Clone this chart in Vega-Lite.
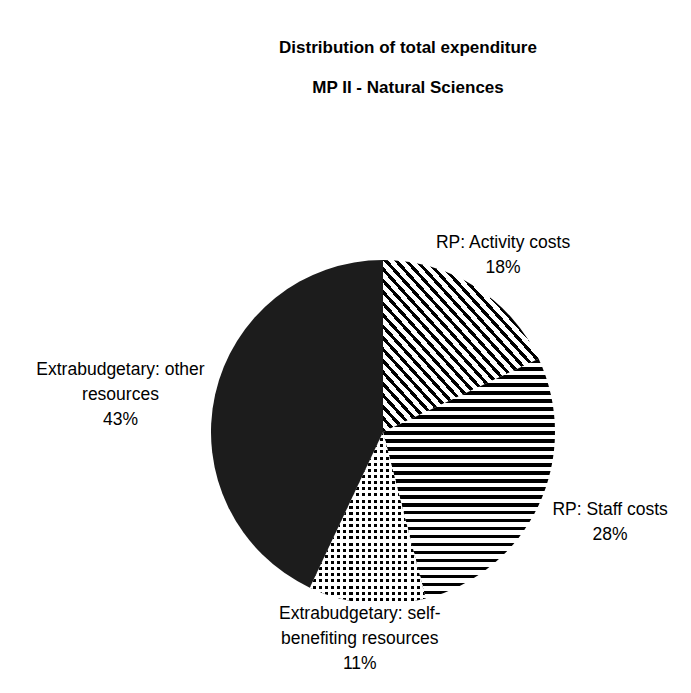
{
  "$schema": "https://vega.github.io/schema/vega-lite/v6.json",
  "width": 616,
  "height": 522,
  "autosize": {"type": "none"},
  "padding": {"left": 75, "top": 171, "right": 0, "bottom": 0},
  "background": "white",
  "config": {"view": {"stroke": null}},
  "title": {
    "text": "Distribution of total expenditure",
    "subtitle": "MP II - Natural Sciences",
    "font": "Liberation Sans",
    "fontSize": 17,
    "fontWeight": "bold",
    "color": "#000",
    "subtitleFont": "Liberation Sans",
    "subtitleFontSize": 17,
    "subtitleFontWeight": "bold",
    "subtitleColor": "#000",
    "subtitlePadding": 23,
    "anchor": "middle",
    "offset": 74,
    "dx": 25
  },
  "data": {
    "values": [
      {"category": "RP: Activity costs", "value": 18, "order": 1, "label": "RP: Activity costs\n18%"},
      {"category": "RP: Staff costs", "value": 28, "order": 2, "label": "RP: Staff costs\n28%"},
      {"category": "Extrabudgetary: self-benefiting resources", "value": 11, "order": 3, "label": "Extrabudgetary: self-\nbenefiting resources\n11%"},
      {"category": "Extrabudgetary: other resources", "value": 43, "order": 4, "label": "Extrabudgetary: other\nresources\n43%"}
    ]
  },
  "transform": [
    {"stack": "value", "groupby": [], "sort": [{"field": "order", "order": "ascending"}], "as": ["v0", "v1"]}
  ],
  "layer": [
    {
      "transform": [{"filter": "datum.order == 1"}],
      "mark": {
        "type": "arc", "radius": 172, "stroke": null,
        "fill": {"gradient": "linear", "x1": 0, "y1": 1, "x2": 1, "y2": 0, "stops": [
          {"offset": 0, "color": "#000"}, {"offset": 0.014, "color": "#000"}, {"offset": 0.014, "color": "#fff"}, {"offset": 0.0333, "color": "#fff"},
          {"offset": 0.0333, "color": "#000"}, {"offset": 0.0473, "color": "#000"}, {"offset": 0.0473, "color": "#fff"}, {"offset": 0.0667, "color": "#fff"},
          {"offset": 0.0667, "color": "#000"}, {"offset": 0.0807, "color": "#000"}, {"offset": 0.0807, "color": "#fff"}, {"offset": 0.1, "color": "#fff"},
          {"offset": 0.1, "color": "#000"}, {"offset": 0.114, "color": "#000"}, {"offset": 0.114, "color": "#fff"}, {"offset": 0.1333, "color": "#fff"},
          {"offset": 0.1333, "color": "#000"}, {"offset": 0.1473, "color": "#000"}, {"offset": 0.1473, "color": "#fff"}, {"offset": 0.1667, "color": "#fff"},
          {"offset": 0.1667, "color": "#000"}, {"offset": 0.1807, "color": "#000"}, {"offset": 0.1807, "color": "#fff"}, {"offset": 0.2, "color": "#fff"},
          {"offset": 0.2, "color": "#000"}, {"offset": 0.214, "color": "#000"}, {"offset": 0.214, "color": "#fff"}, {"offset": 0.2333, "color": "#fff"},
          {"offset": 0.2333, "color": "#000"}, {"offset": 0.2473, "color": "#000"}, {"offset": 0.2473, "color": "#fff"}, {"offset": 0.2667, "color": "#fff"},
          {"offset": 0.2667, "color": "#000"}, {"offset": 0.2807, "color": "#000"}, {"offset": 0.2807, "color": "#fff"}, {"offset": 0.3, "color": "#fff"},
          {"offset": 0.3, "color": "#000"}, {"offset": 0.314, "color": "#000"}, {"offset": 0.314, "color": "#fff"}, {"offset": 0.3333, "color": "#fff"},
          {"offset": 0.3333, "color": "#000"}, {"offset": 0.3473, "color": "#000"}, {"offset": 0.3473, "color": "#fff"}, {"offset": 0.3667, "color": "#fff"},
          {"offset": 0.3667, "color": "#000"}, {"offset": 0.3807, "color": "#000"}, {"offset": 0.3807, "color": "#fff"}, {"offset": 0.4, "color": "#fff"},
          {"offset": 0.4, "color": "#000"}, {"offset": 0.414, "color": "#000"}, {"offset": 0.414, "color": "#fff"}, {"offset": 0.4333, "color": "#fff"},
          {"offset": 0.4333, "color": "#000"}, {"offset": 0.4473, "color": "#000"}, {"offset": 0.4473, "color": "#fff"}, {"offset": 0.4667, "color": "#fff"},
          {"offset": 0.4667, "color": "#000"}, {"offset": 0.4807, "color": "#000"}, {"offset": 0.4807, "color": "#fff"}, {"offset": 0.5, "color": "#fff"},
          {"offset": 0.5, "color": "#000"}, {"offset": 0.514, "color": "#000"}, {"offset": 0.514, "color": "#fff"}, {"offset": 0.5333, "color": "#fff"},
          {"offset": 0.5333, "color": "#000"}, {"offset": 0.5473, "color": "#000"}, {"offset": 0.5473, "color": "#fff"}, {"offset": 0.5667, "color": "#fff"},
          {"offset": 0.5667, "color": "#000"}, {"offset": 0.5807, "color": "#000"}, {"offset": 0.5807, "color": "#fff"}, {"offset": 0.6, "color": "#fff"},
          {"offset": 0.6, "color": "#000"}, {"offset": 0.614, "color": "#000"}, {"offset": 0.614, "color": "#fff"}, {"offset": 0.6333, "color": "#fff"},
          {"offset": 0.6333, "color": "#000"}, {"offset": 0.6473, "color": "#000"}, {"offset": 0.6473, "color": "#fff"}, {"offset": 0.6667, "color": "#fff"},
          {"offset": 0.6667, "color": "#000"}, {"offset": 0.6807, "color": "#000"}, {"offset": 0.6807, "color": "#fff"}, {"offset": 0.7, "color": "#fff"},
          {"offset": 0.7, "color": "#000"}, {"offset": 0.714, "color": "#000"}, {"offset": 0.714, "color": "#fff"}, {"offset": 0.7333, "color": "#fff"},
          {"offset": 0.7333, "color": "#000"}, {"offset": 0.7473, "color": "#000"}, {"offset": 0.7473, "color": "#fff"}, {"offset": 0.7667, "color": "#fff"},
          {"offset": 0.7667, "color": "#000"}, {"offset": 0.7807, "color": "#000"}, {"offset": 0.7807, "color": "#fff"}, {"offset": 0.8, "color": "#fff"},
          {"offset": 0.8, "color": "#000"}, {"offset": 0.814, "color": "#000"}, {"offset": 0.814, "color": "#fff"}, {"offset": 0.8333, "color": "#fff"},
          {"offset": 0.8333, "color": "#000"}, {"offset": 0.8473, "color": "#000"}, {"offset": 0.8473, "color": "#fff"}, {"offset": 0.8667, "color": "#fff"},
          {"offset": 0.8667, "color": "#000"}, {"offset": 0.8807, "color": "#000"}, {"offset": 0.8807, "color": "#fff"}, {"offset": 0.9, "color": "#fff"},
          {"offset": 0.9, "color": "#000"}, {"offset": 0.914, "color": "#000"}, {"offset": 0.914, "color": "#fff"}, {"offset": 0.9333, "color": "#fff"},
          {"offset": 0.9333, "color": "#000"}, {"offset": 0.9473, "color": "#000"}, {"offset": 0.9473, "color": "#fff"}, {"offset": 0.9667, "color": "#fff"},
          {"offset": 0.9667, "color": "#000"}, {"offset": 0.9807, "color": "#000"}, {"offset": 0.9807, "color": "#fff"}, {"offset": 1, "color": "#fff"}
        ]}
      },
      "encoding": {
        "theta": {"field": "v0", "type": "quantitative", "scale": {"domain": [0, 100]}},
        "theta2": {"field": "v1"}
      }
    },
    {
      "transform": [{"filter": "datum.order == 2"}],
      "mark": {
        "type": "arc", "radius": 172, "stroke": null,
        "fill": {"gradient": "linear", "x1": 0, "y1": 0, "x2": 0, "y2": 1, "stops": [
          {"offset": 0, "color": "#000"}, {"offset": 0.016, "color": "#000"}, {"offset": 0.016, "color": "#fff"}, {"offset": 0.0333, "color": "#fff"},
          {"offset": 0.0333, "color": "#000"}, {"offset": 0.0493, "color": "#000"}, {"offset": 0.0493, "color": "#fff"}, {"offset": 0.0667, "color": "#fff"},
          {"offset": 0.0667, "color": "#000"}, {"offset": 0.0827, "color": "#000"}, {"offset": 0.0827, "color": "#fff"}, {"offset": 0.1, "color": "#fff"},
          {"offset": 0.1, "color": "#000"}, {"offset": 0.116, "color": "#000"}, {"offset": 0.116, "color": "#fff"}, {"offset": 0.1333, "color": "#fff"},
          {"offset": 0.1333, "color": "#000"}, {"offset": 0.1493, "color": "#000"}, {"offset": 0.1493, "color": "#fff"}, {"offset": 0.1667, "color": "#fff"},
          {"offset": 0.1667, "color": "#000"}, {"offset": 0.1827, "color": "#000"}, {"offset": 0.1827, "color": "#fff"}, {"offset": 0.2, "color": "#fff"},
          {"offset": 0.2, "color": "#000"}, {"offset": 0.216, "color": "#000"}, {"offset": 0.216, "color": "#fff"}, {"offset": 0.2333, "color": "#fff"},
          {"offset": 0.2333, "color": "#000"}, {"offset": 0.2493, "color": "#000"}, {"offset": 0.2493, "color": "#fff"}, {"offset": 0.2667, "color": "#fff"},
          {"offset": 0.2667, "color": "#000"}, {"offset": 0.2827, "color": "#000"}, {"offset": 0.2827, "color": "#fff"}, {"offset": 0.3, "color": "#fff"},
          {"offset": 0.3, "color": "#000"}, {"offset": 0.316, "color": "#000"}, {"offset": 0.316, "color": "#fff"}, {"offset": 0.3333, "color": "#fff"},
          {"offset": 0.3333, "color": "#000"}, {"offset": 0.3493, "color": "#000"}, {"offset": 0.3493, "color": "#fff"}, {"offset": 0.3667, "color": "#fff"},
          {"offset": 0.3667, "color": "#000"}, {"offset": 0.3827, "color": "#000"}, {"offset": 0.3827, "color": "#fff"}, {"offset": 0.4, "color": "#fff"},
          {"offset": 0.4, "color": "#000"}, {"offset": 0.416, "color": "#000"}, {"offset": 0.416, "color": "#fff"}, {"offset": 0.4333, "color": "#fff"},
          {"offset": 0.4333, "color": "#000"}, {"offset": 0.4493, "color": "#000"}, {"offset": 0.4493, "color": "#fff"}, {"offset": 0.4667, "color": "#fff"},
          {"offset": 0.4667, "color": "#000"}, {"offset": 0.4827, "color": "#000"}, {"offset": 0.4827, "color": "#fff"}, {"offset": 0.5, "color": "#fff"},
          {"offset": 0.5, "color": "#000"}, {"offset": 0.516, "color": "#000"}, {"offset": 0.516, "color": "#fff"}, {"offset": 0.5333, "color": "#fff"},
          {"offset": 0.5333, "color": "#000"}, {"offset": 0.5493, "color": "#000"}, {"offset": 0.5493, "color": "#fff"}, {"offset": 0.5667, "color": "#fff"},
          {"offset": 0.5667, "color": "#000"}, {"offset": 0.5827, "color": "#000"}, {"offset": 0.5827, "color": "#fff"}, {"offset": 0.6, "color": "#fff"},
          {"offset": 0.6, "color": "#000"}, {"offset": 0.616, "color": "#000"}, {"offset": 0.616, "color": "#fff"}, {"offset": 0.6333, "color": "#fff"},
          {"offset": 0.6333, "color": "#000"}, {"offset": 0.6493, "color": "#000"}, {"offset": 0.6493, "color": "#fff"}, {"offset": 0.6667, "color": "#fff"},
          {"offset": 0.6667, "color": "#000"}, {"offset": 0.6827, "color": "#000"}, {"offset": 0.6827, "color": "#fff"}, {"offset": 0.7, "color": "#fff"},
          {"offset": 0.7, "color": "#000"}, {"offset": 0.716, "color": "#000"}, {"offset": 0.716, "color": "#fff"}, {"offset": 0.7333, "color": "#fff"},
          {"offset": 0.7333, "color": "#000"}, {"offset": 0.7493, "color": "#000"}, {"offset": 0.7493, "color": "#fff"}, {"offset": 0.7667, "color": "#fff"},
          {"offset": 0.7667, "color": "#000"}, {"offset": 0.7827, "color": "#000"}, {"offset": 0.7827, "color": "#fff"}, {"offset": 0.8, "color": "#fff"},
          {"offset": 0.8, "color": "#000"}, {"offset": 0.816, "color": "#000"}, {"offset": 0.816, "color": "#fff"}, {"offset": 0.8333, "color": "#fff"},
          {"offset": 0.8333, "color": "#000"}, {"offset": 0.8493, "color": "#000"}, {"offset": 0.8493, "color": "#fff"}, {"offset": 0.8667, "color": "#fff"},
          {"offset": 0.8667, "color": "#000"}, {"offset": 0.8827, "color": "#000"}, {"offset": 0.8827, "color": "#fff"}, {"offset": 0.9, "color": "#fff"},
          {"offset": 0.9, "color": "#000"}, {"offset": 0.916, "color": "#000"}, {"offset": 0.916, "color": "#fff"}, {"offset": 0.9333, "color": "#fff"},
          {"offset": 0.9333, "color": "#000"}, {"offset": 0.9493, "color": "#000"}, {"offset": 0.9493, "color": "#fff"}, {"offset": 0.9667, "color": "#fff"},
          {"offset": 0.9667, "color": "#000"}, {"offset": 0.9827, "color": "#000"}, {"offset": 0.9827, "color": "#fff"}, {"offset": 1, "color": "#fff"}
        ]}
      },
      "encoding": {
        "theta": {"field": "v0", "type": "quantitative", "scale": {"domain": [0, 100]}},
        "theta2": {"field": "v1"}
      }
    },
    {
      "transform": [{"filter": "datum.order == 3"}],
      "mark": {
        "type": "arc", "radius": 172, "stroke": null,
        "fill": {"gradient": "linear", "x1": 0, "y1": 0, "x2": 0, "y2": 1, "stops": [
          {"offset": 0, "color": "#000"}, {"offset": 0.0179, "color": "#000"}, {"offset": 0.0179, "color": "#fff"}, {"offset": 0.0357, "color": "#fff"},
          {"offset": 0.0357, "color": "#000"}, {"offset": 0.0536, "color": "#000"}, {"offset": 0.0536, "color": "#fff"}, {"offset": 0.0714, "color": "#fff"},
          {"offset": 0.0714, "color": "#000"}, {"offset": 0.0893, "color": "#000"}, {"offset": 0.0893, "color": "#fff"}, {"offset": 0.1071, "color": "#fff"},
          {"offset": 0.1071, "color": "#000"}, {"offset": 0.125, "color": "#000"}, {"offset": 0.125, "color": "#fff"}, {"offset": 0.1429, "color": "#fff"},
          {"offset": 0.1429, "color": "#000"}, {"offset": 0.1607, "color": "#000"}, {"offset": 0.1607, "color": "#fff"}, {"offset": 0.1786, "color": "#fff"},
          {"offset": 0.1786, "color": "#000"}, {"offset": 0.1964, "color": "#000"}, {"offset": 0.1964, "color": "#fff"}, {"offset": 0.2143, "color": "#fff"},
          {"offset": 0.2143, "color": "#000"}, {"offset": 0.2321, "color": "#000"}, {"offset": 0.2321, "color": "#fff"}, {"offset": 0.25, "color": "#fff"},
          {"offset": 0.25, "color": "#000"}, {"offset": 0.2679, "color": "#000"}, {"offset": 0.2679, "color": "#fff"}, {"offset": 0.2857, "color": "#fff"},
          {"offset": 0.2857, "color": "#000"}, {"offset": 0.3036, "color": "#000"}, {"offset": 0.3036, "color": "#fff"}, {"offset": 0.3214, "color": "#fff"},
          {"offset": 0.3214, "color": "#000"}, {"offset": 0.3393, "color": "#000"}, {"offset": 0.3393, "color": "#fff"}, {"offset": 0.3571, "color": "#fff"},
          {"offset": 0.3571, "color": "#000"}, {"offset": 0.375, "color": "#000"}, {"offset": 0.375, "color": "#fff"}, {"offset": 0.3929, "color": "#fff"},
          {"offset": 0.3929, "color": "#000"}, {"offset": 0.4107, "color": "#000"}, {"offset": 0.4107, "color": "#fff"}, {"offset": 0.4286, "color": "#fff"},
          {"offset": 0.4286, "color": "#000"}, {"offset": 0.4464, "color": "#000"}, {"offset": 0.4464, "color": "#fff"}, {"offset": 0.4643, "color": "#fff"},
          {"offset": 0.4643, "color": "#000"}, {"offset": 0.4821, "color": "#000"}, {"offset": 0.4821, "color": "#fff"}, {"offset": 0.5, "color": "#fff"},
          {"offset": 0.5, "color": "#000"}, {"offset": 0.5179, "color": "#000"}, {"offset": 0.5179, "color": "#fff"}, {"offset": 0.5357, "color": "#fff"},
          {"offset": 0.5357, "color": "#000"}, {"offset": 0.5536, "color": "#000"}, {"offset": 0.5536, "color": "#fff"}, {"offset": 0.5714, "color": "#fff"},
          {"offset": 0.5714, "color": "#000"}, {"offset": 0.5893, "color": "#000"}, {"offset": 0.5893, "color": "#fff"}, {"offset": 0.6071, "color": "#fff"},
          {"offset": 0.6071, "color": "#000"}, {"offset": 0.625, "color": "#000"}, {"offset": 0.625, "color": "#fff"}, {"offset": 0.6429, "color": "#fff"},
          {"offset": 0.6429, "color": "#000"}, {"offset": 0.6607, "color": "#000"}, {"offset": 0.6607, "color": "#fff"}, {"offset": 0.6786, "color": "#fff"},
          {"offset": 0.6786, "color": "#000"}, {"offset": 0.6964, "color": "#000"}, {"offset": 0.6964, "color": "#fff"}, {"offset": 0.7143, "color": "#fff"},
          {"offset": 0.7143, "color": "#000"}, {"offset": 0.7321, "color": "#000"}, {"offset": 0.7321, "color": "#fff"}, {"offset": 0.75, "color": "#fff"},
          {"offset": 0.75, "color": "#000"}, {"offset": 0.7679, "color": "#000"}, {"offset": 0.7679, "color": "#fff"}, {"offset": 0.7857, "color": "#fff"},
          {"offset": 0.7857, "color": "#000"}, {"offset": 0.8036, "color": "#000"}, {"offset": 0.8036, "color": "#fff"}, {"offset": 0.8214, "color": "#fff"},
          {"offset": 0.8214, "color": "#000"}, {"offset": 0.8393, "color": "#000"}, {"offset": 0.8393, "color": "#fff"}, {"offset": 0.8571, "color": "#fff"},
          {"offset": 0.8571, "color": "#000"}, {"offset": 0.875, "color": "#000"}, {"offset": 0.875, "color": "#fff"}, {"offset": 0.8929, "color": "#fff"},
          {"offset": 0.8929, "color": "#000"}, {"offset": 0.9107, "color": "#000"}, {"offset": 0.9107, "color": "#fff"}, {"offset": 0.9286, "color": "#fff"},
          {"offset": 0.9286, "color": "#000"}, {"offset": 0.9464, "color": "#000"}, {"offset": 0.9464, "color": "#fff"}, {"offset": 0.9643, "color": "#fff"},
          {"offset": 0.9643, "color": "#000"}, {"offset": 0.9821, "color": "#000"}, {"offset": 0.9821, "color": "#fff"}, {"offset": 1, "color": "#fff"}
        ]}
      },
      "encoding": {
        "theta": {"field": "v0", "type": "quantitative", "scale": {"domain": [0, 100]}},
        "theta2": {"field": "v1"}
      }
    },
    {
      "transform": [{"filter": "datum.order == 3"}],
      "mark": {
        "type": "arc", "radius": 172, "stroke": null,
        "fill": {"gradient": "linear", "x1": 0, "y1": 0, "x2": 1, "y2": 0, "stops": [
          {"offset": 0, "color": "rgba(255,255,255,1)"}, {"offset": 0.0263, "color": "rgba(255,255,255,1)"}, {"offset": 0.0263, "color": "rgba(255,255,255,0)"}, {"offset": 0.0526, "color": "rgba(255,255,255,0)"},
          {"offset": 0.0526, "color": "rgba(255,255,255,1)"}, {"offset": 0.0789, "color": "rgba(255,255,255,1)"}, {"offset": 0.0789, "color": "rgba(255,255,255,0)"}, {"offset": 0.1053, "color": "rgba(255,255,255,0)"},
          {"offset": 0.1053, "color": "rgba(255,255,255,1)"}, {"offset": 0.1316, "color": "rgba(255,255,255,1)"}, {"offset": 0.1316, "color": "rgba(255,255,255,0)"}, {"offset": 0.1579, "color": "rgba(255,255,255,0)"},
          {"offset": 0.1579, "color": "rgba(255,255,255,1)"}, {"offset": 0.1842, "color": "rgba(255,255,255,1)"}, {"offset": 0.1842, "color": "rgba(255,255,255,0)"}, {"offset": 0.2105, "color": "rgba(255,255,255,0)"},
          {"offset": 0.2105, "color": "rgba(255,255,255,1)"}, {"offset": 0.2368, "color": "rgba(255,255,255,1)"}, {"offset": 0.2368, "color": "rgba(255,255,255,0)"}, {"offset": 0.2632, "color": "rgba(255,255,255,0)"},
          {"offset": 0.2632, "color": "rgba(255,255,255,1)"}, {"offset": 0.2895, "color": "rgba(255,255,255,1)"}, {"offset": 0.2895, "color": "rgba(255,255,255,0)"}, {"offset": 0.3158, "color": "rgba(255,255,255,0)"},
          {"offset": 0.3158, "color": "rgba(255,255,255,1)"}, {"offset": 0.3421, "color": "rgba(255,255,255,1)"}, {"offset": 0.3421, "color": "rgba(255,255,255,0)"}, {"offset": 0.3684, "color": "rgba(255,255,255,0)"},
          {"offset": 0.3684, "color": "rgba(255,255,255,1)"}, {"offset": 0.3947, "color": "rgba(255,255,255,1)"}, {"offset": 0.3947, "color": "rgba(255,255,255,0)"}, {"offset": 0.4211, "color": "rgba(255,255,255,0)"},
          {"offset": 0.4211, "color": "rgba(255,255,255,1)"}, {"offset": 0.4474, "color": "rgba(255,255,255,1)"}, {"offset": 0.4474, "color": "rgba(255,255,255,0)"}, {"offset": 0.4737, "color": "rgba(255,255,255,0)"},
          {"offset": 0.4737, "color": "rgba(255,255,255,1)"}, {"offset": 0.5, "color": "rgba(255,255,255,1)"}, {"offset": 0.5, "color": "rgba(255,255,255,0)"}, {"offset": 0.5263, "color": "rgba(255,255,255,0)"},
          {"offset": 0.5263, "color": "rgba(255,255,255,1)"}, {"offset": 0.5526, "color": "rgba(255,255,255,1)"}, {"offset": 0.5526, "color": "rgba(255,255,255,0)"}, {"offset": 0.5789, "color": "rgba(255,255,255,0)"},
          {"offset": 0.5789, "color": "rgba(255,255,255,1)"}, {"offset": 0.6053, "color": "rgba(255,255,255,1)"}, {"offset": 0.6053, "color": "rgba(255,255,255,0)"}, {"offset": 0.6316, "color": "rgba(255,255,255,0)"},
          {"offset": 0.6316, "color": "rgba(255,255,255,1)"}, {"offset": 0.6579, "color": "rgba(255,255,255,1)"}, {"offset": 0.6579, "color": "rgba(255,255,255,0)"}, {"offset": 0.6842, "color": "rgba(255,255,255,0)"},
          {"offset": 0.6842, "color": "rgba(255,255,255,1)"}, {"offset": 0.7105, "color": "rgba(255,255,255,1)"}, {"offset": 0.7105, "color": "rgba(255,255,255,0)"}, {"offset": 0.7368, "color": "rgba(255,255,255,0)"},
          {"offset": 0.7368, "color": "rgba(255,255,255,1)"}, {"offset": 0.7632, "color": "rgba(255,255,255,1)"}, {"offset": 0.7632, "color": "rgba(255,255,255,0)"}, {"offset": 0.7895, "color": "rgba(255,255,255,0)"},
          {"offset": 0.7895, "color": "rgba(255,255,255,1)"}, {"offset": 0.8158, "color": "rgba(255,255,255,1)"}, {"offset": 0.8158, "color": "rgba(255,255,255,0)"}, {"offset": 0.8421, "color": "rgba(255,255,255,0)"},
          {"offset": 0.8421, "color": "rgba(255,255,255,1)"}, {"offset": 0.8684, "color": "rgba(255,255,255,1)"}, {"offset": 0.8684, "color": "rgba(255,255,255,0)"}, {"offset": 0.8947, "color": "rgba(255,255,255,0)"},
          {"offset": 0.8947, "color": "rgba(255,255,255,1)"}, {"offset": 0.9211, "color": "rgba(255,255,255,1)"}, {"offset": 0.9211, "color": "rgba(255,255,255,0)"}, {"offset": 0.9474, "color": "rgba(255,255,255,0)"},
          {"offset": 0.9474, "color": "rgba(255,255,255,1)"}, {"offset": 0.9737, "color": "rgba(255,255,255,1)"}, {"offset": 0.9737, "color": "rgba(255,255,255,0)"}, {"offset": 1, "color": "rgba(255,255,255,0)"}
        ]}
      },
      "encoding": {
        "theta": {"field": "v0", "type": "quantitative", "scale": {"domain": [0, 100]}},
        "theta2": {"field": "v1"}
      }
    },
    {
      "transform": [{"filter": "datum.order == 4"}],
      "mark": {"type": "arc", "radius": 172, "stroke": null, "fill": "#1c1c1c"},
      "encoding": {
        "theta": {"field": "v0", "type": "quantitative", "scale": {"domain": [0, 100]}},
        "theta2": {"field": "v1"}
      }
    },
    {
      "mark": {"type": "text", "radius": 224, "font": "Liberation Sans", "fontSize": 17.5, "lineBreak": "\n", "lineHeight": 25, "align": "center", "baseline": "middle", "color": "#000"},
      "encoding": {
        "theta": {"field": "value", "type": "quantitative", "stack": true, "scale": {"domain": [0, 100]}},
        "order": {"field": "order"},
        "text": {"condition": {"test": "datum.order == 1", "field": "label"}, "value": ""}
      }
    },
    {
      "mark": {"type": "text", "radius": 251, "dy": -29, "font": "Liberation Sans", "fontSize": 17.5, "lineBreak": "\n", "lineHeight": 25, "align": "center", "baseline": "middle", "color": "#000"},
      "encoding": {
        "theta": {"field": "value", "type": "quantitative", "stack": true, "scale": {"domain": [0, 100]}},
        "order": {"field": "order"},
        "text": {"condition": {"test": "datum.order == 2", "field": "label"}, "value": ""}
      }
    },
    {
      "mark": {"type": "text", "radius": 183, "dx": -6, "font": "Liberation Sans", "fontSize": 17.5, "lineBreak": "\n", "lineHeight": 25, "align": "center", "baseline": "middle", "color": "#000"},
      "encoding": {
        "theta": {"field": "value", "type": "quantitative", "stack": true, "scale": {"domain": [0, 100]}},
        "order": {"field": "order"},
        "text": {"condition": {"test": "datum.order == 3", "field": "label"}, "value": ""}
      }
    },
    {
      "mark": {"type": "text", "radius": 269, "dy": -3, "font": "Liberation Sans", "fontSize": 17.5, "lineBreak": "\n", "lineHeight": 25, "align": "center", "baseline": "middle", "color": "#000"},
      "encoding": {
        "theta": {"field": "value", "type": "quantitative", "stack": true, "scale": {"domain": [0, 100]}},
        "order": {"field": "order"},
        "text": {"condition": {"test": "datum.order == 4", "field": "label"}, "value": ""}
      }
    }
  ]
}
